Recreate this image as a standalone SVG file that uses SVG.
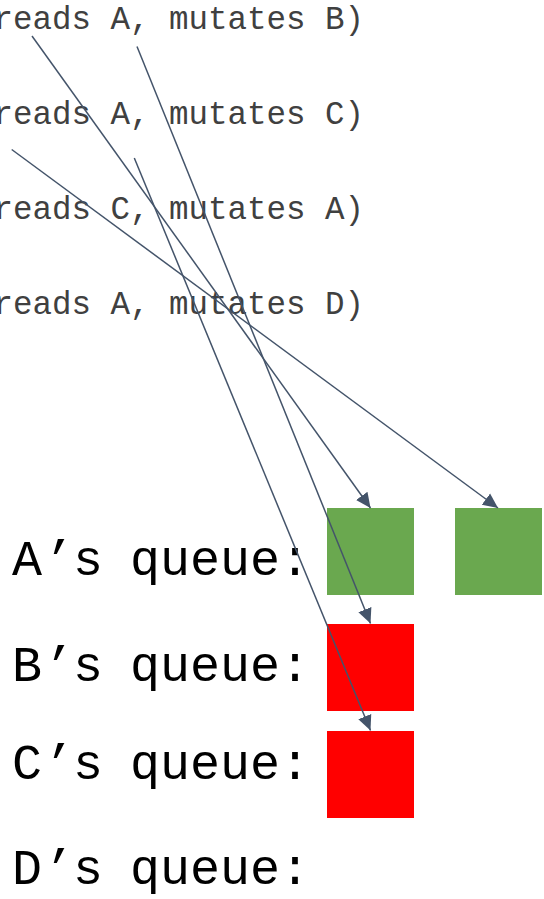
<svg xmlns="http://www.w3.org/2000/svg" width="544" height="899" viewBox="0 0 544 899">
  <style>
    .op { font-family: "Liberation Mono", "DejaVu Sans Mono", monospace; font-size: 32.5px; fill: #404040; }
    .q { font-family: "Liberation Mono", "DejaVu Sans Mono", monospace; font-size: 50px; fill: #000000; }
    .green { fill: #6AA84F; }
    .red { fill: #FF0000; }
    .conn { stroke: #44546A; stroke-width: 1.5; fill: none; marker-end: url(#arrow); }
  </style>
  <defs>
    <marker id="arrow" markerUnits="userSpaceOnUse" markerWidth="16" markerHeight="16" viewBox="0 0 16 16" refX="15" refY="8" orient="auto">
      <path d="M0,1 L15,8 L0,15 Z" fill="#44546A"/>
    </marker>
  </defs>
  <rect width="544" height="899" fill="#ffffff"/>

  <!-- operation list (left edge runs off the canvas) -->
  <g id="ops">
    <text class="op" x="-6.5" y="29">reads A, mutates B)</text>
    <text class="op" x="-6.5" y="124">reads A, mutates C)</text>
    <text class="op" x="-6.5" y="219">reads C, mutates A)</text>
    <text class="op" x="-6.5" y="314">reads A, mutates D)</text>
  </g>

  <!-- queue labels -->
  <g id="label-a" class="q"><text y="575"><tspan x="12">A</tspan><tspan x="44">’</tspan><tspan x="73">s</tspan><tspan x="130">queue:</tspan></text></g>
  <g id="label-b" class="q"><text y="681"><tspan x="12">B</tspan><tspan x="44">’</tspan><tspan x="73">s</tspan><tspan x="130">queue:</tspan></text></g>
  <g id="label-c" class="q"><text y="779"><tspan x="12">C</tspan><tspan x="44">’</tspan><tspan x="73">s</tspan><tspan x="130">queue:</tspan></text></g>
  <g id="label-d" class="q"><text y="884"><tspan x="12">D</tspan><tspan x="44">’</tspan><tspan x="73">s</tspan><tspan x="130">queue:</tspan></text></g>

  <!-- queue entries -->
  <g id="a-queue-1"><rect class="green" x="327" y="508" width="87" height="87"/></g>
  <g id="a-queue-2"><rect class="green" x="455" y="508" width="87" height="87"/></g>
  <g id="b-queue-1"><rect class="red" x="327" y="624" width="87" height="87"/></g>
  <g id="c-queue-1"><rect class="red" x="327" y="731" width="87" height="87"/></g>

  <!-- connectors from operations to queue entries -->
  <g id="connectors">
    <line class="conn" x1="32" y1="36" x2="370.5" y2="508"/>
    <line class="conn" x1="137" y1="46.5" x2="370.5" y2="623.5"/>
    <line class="conn" x1="11.7" y1="149.5" x2="498" y2="508"/>
    <line class="conn" x1="134.3" y1="158" x2="370.5" y2="730.5"/>
  </g>
</svg>
